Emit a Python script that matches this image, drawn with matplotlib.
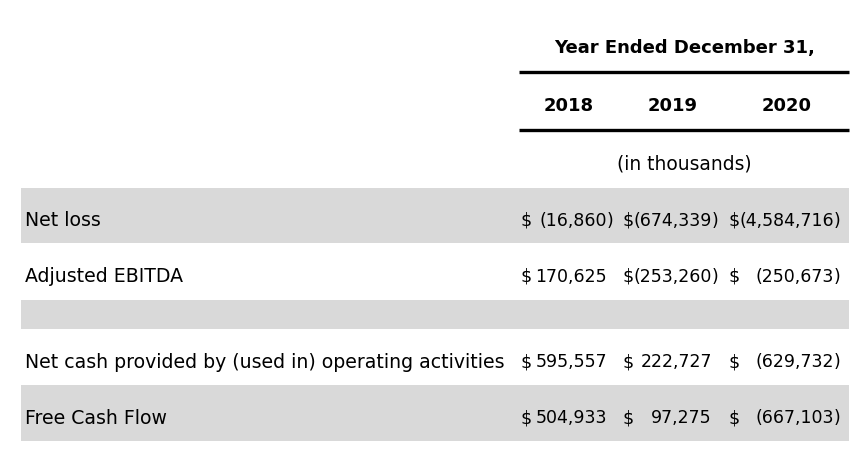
import matplotlib
matplotlib.use("Agg")
import matplotlib.pyplot as plt
from matplotlib.patches import Rectangle

plt.rcParams['font.family'] = ['DejaVu Sans']

# table content
years = ["2018", "2019", "2020"]
row_labels = ["Net loss", "Adjusted EBITDA", "",
              "Net cash provided by (used in) operating activities",
              "Free Cash Flow"]
vals_2018 = [-16860, 170625, None, 595557, 504933]
vals_2019 = [-674339, -253260, None, 222727, 97275]
vals_2020 = [-4584716, -250673, None, -629732, -667103]
shaded = [True, False, True, False, True]

# layout in pixel coordinates
W, H = 868, 461
row_edges = [188, 243, 300, 329, 385, 441]
dollar_x = [521, 622, 728]
num_right = [607, 712, 834]
year_x = [569, 673, 787]


def fmt(v):
    if v < 0:
        return "({:,}".format(-v), ")"
    return "{:,}".format(v), ""


fig = plt.figure(figsize=(W / 100, H / 100), dpi=100)
ax = fig.add_axes([0, 0, 1, 1])
ax.set_xlim(0, W)
ax.set_ylim(H, 0)
ax.axis("off")

fs_label = 13.6
fs_num = 12.5
ax.text(685, 46, "Year Ended December 31,", ha="center", va="center_baseline",
        fontsize=13, fontweight="bold")
ax.plot([519, 849], [72, 72], color="black", lw=2.4, solid_capstyle="butt")
for x, y in zip(year_x, years):
    ax.text(x, 104, y, ha="center", va="center_baseline", fontsize=13,
            fontweight="bold")
ax.plot([519, 849], [130, 130], color="black", lw=2.4, solid_capstyle="butt")
ax.text(684, 162, "(in thousands)", ha="center", va="center_baseline",
        fontsize=13.4)

cols = [vals_2018, vals_2019, vals_2020]
for i, label in enumerate(row_labels):
    y0, y1 = row_edges[i], row_edges[i + 1]
    if shaded[i]:
        ax.add_patch(Rectangle((21, y0), 849 - 21, y1 - y0,
                               facecolor="#d9d9d9", edgecolor="none"))
    if not label:
        continue
    yc = (y0 + y1) / 2 + 3
    ax.text(25, yc, label, ha="left", va="center_baseline", fontsize=fs_label)
    for j, col in enumerate(cols):
        body, tail = fmt(col[i])
        ax.text(dollar_x[j], yc, "$", ha="left", va="center_baseline",
                fontsize=fs_num)
        ax.text(num_right[j], yc, body, ha="right", va="center_baseline",
                fontsize=fs_num)
        if tail:
            ax.text(num_right[j], yc, tail, ha="left", va="center_baseline",
                    fontsize=fs_num)

fig.savefig("out.png", dpi=100)
